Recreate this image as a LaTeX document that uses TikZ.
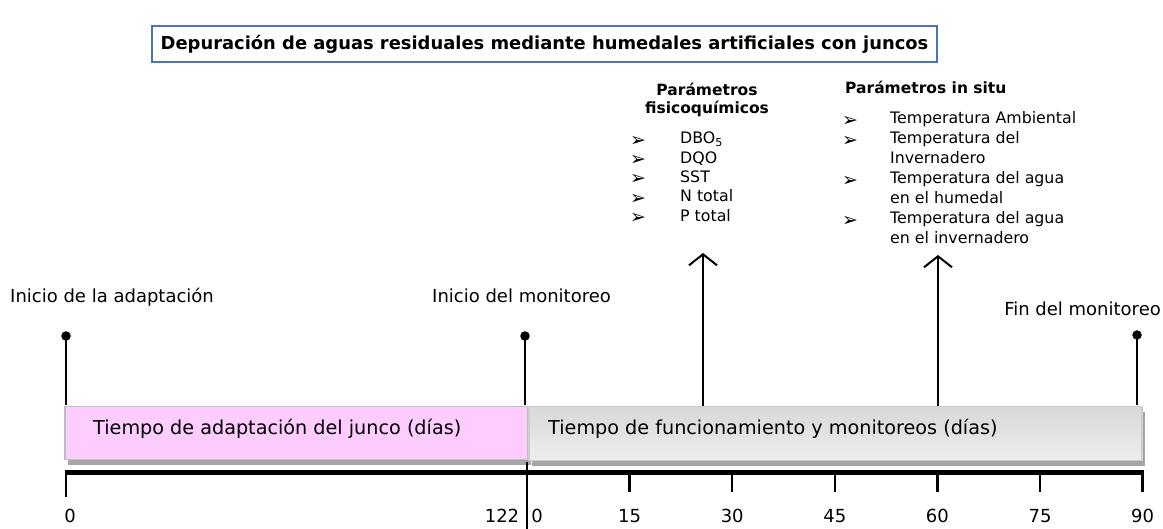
\documentclass[tikz,border=0pt]{standalone}
\usepackage{fontspec}
\setmainfont{DejaVu Sans}
\usetikzlibrary{arrows.meta,shadows}
\definecolor{titleblue}{RGB}{68,114,196}
\definecolor{pinkfill}{RGB}{255,204,255}
\definecolor{boxedge}{RGB}{191,191,191}
\definecolor{shadowgray}{RGB}{166,166,166}
\definecolor{graytop}{RGB}{216,216,216}
\definecolor{graybot}{RGB}{238,238,238}
\begin{document}
\begin{tikzpicture}[x=1pt,y=-1pt,
  lbl/.style={font=\fontsize{18}{20}\selectfont, inner sep=0pt},
  boxtxt/.style={font=\fontsize{19.2}{21}\selectfont, inner sep=0pt, anchor=mid west},
  ax/.style={font=\fontsize{18}{20}\selectfont, inner sep=0pt, anchor=mid},
  head/.style={font=\bfseries\fontsize{15.5}{18}\selectfont, inner sep=0pt},
  item/.style={font=\fontsize{15.8}{20}\selectfont, inner sep=0pt, anchor=mid west, align=left},
  bul/.style={font=\fontsize{19}{20}\selectfont, inner sep=0pt, anchor=center},
  dot/.style={circle, fill=black, inner sep=0pt, minimum size=9.5pt},
  pinline/.style={line width=2pt},
  arr/.style={line width=2pt, -{Straight Barb[length=11pt,width=28pt,line width=2pt]}},
  tick/.style={line width=2.5pt},
  sh/.style={drop shadow={shadow xshift=3pt, shadow yshift=-5pt, fill=shadowgray, opacity=1}}
]
\useasboundingbox (0,0) rectangle (1163,529);
% title
\node[draw=titleblue, line width=2pt, minimum width=785pt, minimum height=36pt, inner sep=0pt,
  font=\bfseries\fontsize{17.9}{20}\selectfont] (title) at (544.5,44)
  {Depuración de aguas residuales mediante humedales artificiales con juncos};

% boxes
\node[sh, draw=boxedge, line width=1.5pt, fill=pinkfill, minimum width=463pt, minimum height=53pt,
  inner sep=0pt, anchor=north west] (adapt) at (64,406) {};
\node[sh, draw={rgb,255:red,205;green,205;blue,205}, line width=1.5pt, top color=graytop, bottom color=graybot,
  minimum width=613pt, minimum height=54pt, inner sep=0pt, anchor=north west] (mon) at (528,406) {};
\node[boxtxt] (adapttxt) at (93,432) {Tiempo de adaptación del junco (días)};
\node[boxtxt] (montxt) at (548,432) {Tiempo de funcionamiento y monitoreos (días)};

% event labels and pins
\node[lbl, anchor=mid west] (l1) at (10,300) {Inicio de la adaptación};
\node[lbl, anchor=mid west] (l2) at (432,300) {Inicio del monitoreo};
\node[lbl, anchor=mid east] (l3) at (1161,313) {Fin del monitoreo};
\node[dot] (p1) at (66,336) {};
\node[dot] (p2) at (525,336) {};
\node[dot] (p3) at (1137,335) {};
\coordinate (b1) at (66,405);
\coordinate (b2) at (525,405);
\coordinate (b3) at (1137,405);
\draw[pinline] (p1.center) -- (b1);
\draw[pinline] (p2.center) -- (b2);
\draw[pinline] (p3.center) -- (b3);

% parameter arrows
\coordinate (a1b) at (703,406);
\coordinate (a1t) at (703,253);
\coordinate (a2b) at (938,406);
\coordinate (a2t) at (938,255);
\draw[arr] (a1b) -- (a1t);
\draw[arr] (a2b) -- (a2t);

% physicochemical parameters
\node[head, align=center] (fqh) at (707,100) {Parámetros\\fisicoquímicos};
\foreach \t [count=\i] in {DBO\textsubscript{5},DQO,SST,N total,P total}{
  \node[bul] (fqb\i) at (638,{141+19.4*(\i-1)}) {➢};
  \node[item] (fq\i) at (680,{141+19.4*(\i-1)}) {\t};
}

% in situ parameters
\node[head, anchor=mid west] (ish) at (845,91) {Parámetros in situ};
\node[bul] (isb1) at (850,121) {➢};
\node[bul] (isb2) at (850,141) {➢};
\node[bul] (isb3) at (850,181) {➢};
\node[bul] (isb4) at (850,221) {➢};
\node[item] (is1) at (890,121) {Temperatura Ambiental};
\node[item] (is2) at (890,141) {Temperatura del};
\node[item] (is2b) at (890,161) {Invernadero};
\node[item] (is3) at (890,181) {Temperatura del agua};
\node[item] (is3b) at (890,201) {en el humedal};
\node[item] (is4) at (890,221) {Temperatura del agua};
\node[item] (is4b) at (890,241) {en el invernadero};

% axis
\coordinate (x0) at (65,472);
\coordinate (xe) at (1144,472);
\draw[line width=5pt] (x0) -- (xe);
\coordinate (t0a) at (66,470); \coordinate (t0b) at (66,497);
\draw[tick] (t0a) -- (t0b);
\coordinate (tma) at (527,462); \coordinate (tmb) at (527,529);
\draw[tick] (tma) -- (tmb);
\foreach \i in {1,...,6}{
  \coordinate (ta\i) at ({527+102.6*\i},470);
  \coordinate (tb\i) at ({527+102.6*\i},492);
  \draw[tick] (ta\i) -- (tb\i);
}
\node[ax] (n0) at (70,520) {0};
\node[ax] (n122) at (502,520) {122};
\node[ax] (m0) at (537,520) {0};
\foreach \v [count=\i] in {15,30,45,60,75,90}{
  \node[ax] (m\v) at ({527+102.6*\i},520) {\v};
}
\end{tikzpicture}
\end{document}
